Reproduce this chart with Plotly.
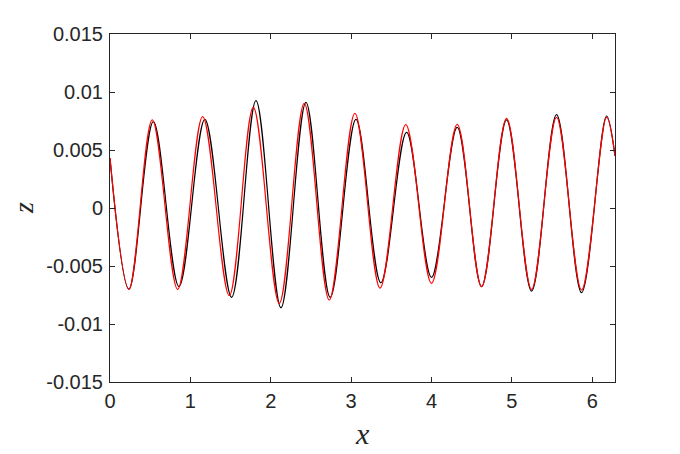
import plotly.graph_objects as go
import math

# Black curve (x, z): start, extrema, end
black_x = [0.0, 0.236, 0.539, 0.858, 1.18, 1.513, 1.816, 2.127, 2.438, 2.74, 3.06, 3.37, 3.69, 4.0,
           4.32, 4.623, 4.934, 5.245, 5.556, 5.867, 6.178, 6.283]
black_z = [0.0043, -0.0070, 0.00744, -0.00678, 0.00764, -0.0077, 0.00925, -0.0086, 0.00911, -0.0077,
           0.00764, -0.00644, 0.00652, -0.00598, 0.00695, -0.00678, 0.0076, -0.00716, 0.00805, -0.0073,
           0.00793, 0.0045]

# Red curve (x, z)
red_x = [0.0, 0.236, 0.526, 0.842, 1.153, 1.484, 1.783, 2.106, 2.417, 2.728, 3.047, 3.36, 3.68, 4.0,
         4.32, 4.623, 4.934, 5.245, 5.556, 5.867, 6.178, 6.283]
red_z = [0.0043, -0.0070, 0.0076, -0.00701, 0.00787, -0.00756, 0.00868, -0.00822, 0.00902, -0.00793,
         0.00816, -0.0069, 0.00718, -0.00649, 0.00721, -0.00678, 0.00773, -0.00701, 0.00782, -0.00707,
         0.00782, 0.0045]

x_ticks = [0, 1, 2, 3, 4, 5, 6]
y_ticks = [0.015, 0.01, 0.005, 0, -0.005, -0.01, -0.015]
y_ticktext = ["0.015", "0.01", "0.005", "0", "-0.005", "-0.01", "-0.015"]

fig = go.Figure()
fig.add_trace(go.Scatter(x=black_x, y=black_z, mode="lines",
                         line=dict(color="black", width=1.2, shape="spline", smoothing=1.0)))
fig.add_trace(go.Scatter(x=red_x, y=red_z, mode="lines",
                         line=dict(color="#ff0000", width=1.2, shape="spline", smoothing=1.0)))

axis_common = dict(showgrid=False, zeroline=False, showline=True, linecolor="#262626",
                   linewidth=1, mirror="ticks", ticks="inside", ticklen=5, tickcolor="#262626",
                   tickfont=dict(family="Liberation Sans, Arial, sans-serif", size=20, color="#262626"))

fig.update_layout(
    width=680, height=454,
    margin=dict(l=102, r=73, t=26, b=80, autoexpand=False),
    paper_bgcolor="white", plot_bgcolor="white",
    showlegend=False,
    xaxis=dict(range=[0, 2 * math.pi], tickvals=x_ticks, ticklabelstandoff=1, **axis_common),
    yaxis=dict(range=[-0.015, 0.015], tickvals=y_ticks, ticktext=y_ticktext, ticklabelstandoff=2,
               **axis_common),
    annotations=[
        dict(text="<i>x</i>", xref="paper", yref="paper", x=0.5, y=0, xanchor="center", yanchor="middle",
             yshift=-51, showarrow=False,
             font=dict(family="Liberation Serif, serif", size=30, color="#262626")),
        dict(text="<i>z</i>", xref="paper", yref="paper", x=0, y=0.5, xanchor="center", yanchor="middle",
             xshift=-87, textangle=-90, showarrow=False,
             font=dict(family="Liberation Serif, serif", size=28, color="#262626")),
    ],
)

fig.write_html("out.html")
